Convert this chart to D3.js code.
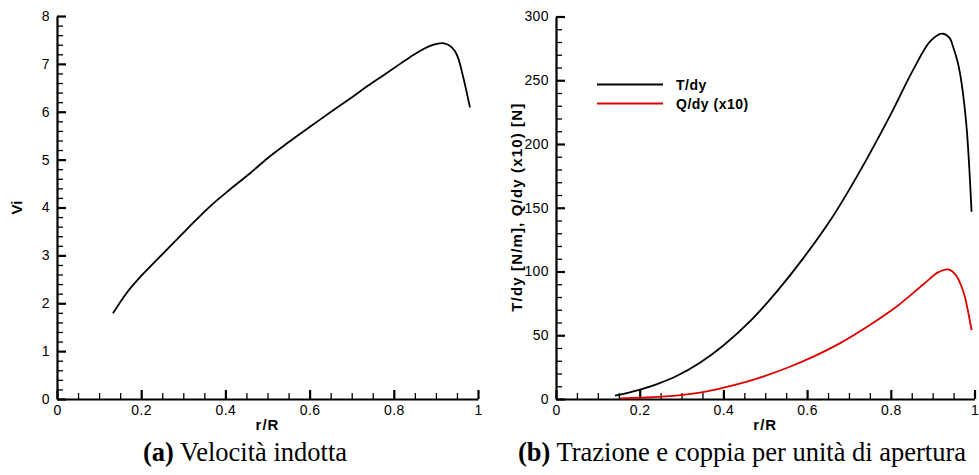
<!DOCTYPE html>
<html>
<head>
<meta charset="utf-8">
<script src="https://cdn.jsdelivr.net/npm/d3@7"></script>
<style>
  html, body { margin: 0; padding: 0; background: #fff; }
  svg { display: block; }
  .tick text { font-family: Arial, "Liberation Sans", sans-serif; font-size: 14px; letter-spacing: 0.4px; fill: #000; }
</style>
</head>
<body>
<svg id="chart" width="979" height="475"></svg>
<script>
// ---- Data ----
const viR = [0.133, 0.165, 0.20, 0.26, 0.31, 0.363, 0.41, 0.458, 0.50, 0.545, 0.60, 0.656, 0.70, 0.735, 0.78, 0.815, 0.84, 0.862, 0.885, 0.902, 0.92, 0.933, 0.945, 0.953, 0.965, 0.972, 0.981];
const viV = [1.79, 2.21, 2.57, 3.11, 3.56, 4.02, 4.37, 4.71, 5.03, 5.33, 5.68, 6.03, 6.30, 6.52, 6.79, 7.00, 7.15, 7.27, 7.37, 7.42, 7.43, 7.38, 7.27, 7.12, 6.72, 6.45, 6.09];

const tR = [0.141, 0.197, 0.24, 0.288, 0.344, 0.40, 0.464, 0.527, 0.591, 0.663, 0.726, 0.798, 0.854, 0.894, 0.922, 0.94, 0.949, 0.96, 0.969, 0.981, 0.993];
const tV = [2.6, 7.0, 11.5, 18.0, 28.5, 42.0, 61.0, 84.0, 110.5, 144.0, 178.5, 222.0, 258.5, 280.5, 286.6, 283.5, 276.1, 264.0, 248.0, 213.4, 146.8];

const qR = [0.153, 0.20, 0.264, 0.344, 0.408, 0.48, 0.559, 0.615, 0.679, 0.75, 0.814, 0.878, 0.914, 0.938, 0.957, 0.968, 0.977, 0.993];
const qV = [0.5, 1.0, 2.0, 5.0, 9.5, 16.0, 25.3, 33.2, 43.8, 58.0, 72.5, 90.0, 99.5, 101.6, 96.5, 89.0, 80.2, 54.0];

const xTicks = [0, 0.2, 0.4, 0.6, 0.8, 1];
const xTickLabels = ["0", "0.2", "0.4", "0.6", "0.8", "1"];
const viTicks = [0, 1, 2, 3, 4, 5, 6, 7, 8];
const tqTicks = [0, 50, 100, 150, 200, 250, 300];

const legendLabels = ["T/dy", "Q/dy (x10)"];
const seriesColors = ["#000000", "#dd0000"];

const captionA = ["(a)", " Velocità indotta"];
const captionB = ["(b)", " Trazione e coppia per unità di apertura"];

// ---- Drawing ----
const svg = d3.select("#chart");

function range(a, b, step) {
  const out = [];
  for (let v = a; v <= b + 1e-9; v += step) out.push(+v.toFixed(6));
  return out;
}

function panel(opts) {
  const x = d3.scaleLinear().domain([0, 1]).range([opts.x0, opts.x1]);
  const y = d3.scaleLinear().domain([0, opts.ymax]).range([opts.y0, opts.y1]);
  const g = svg.append("g");

  const xMinor = range(0, 1, 0.05).filter(v => !xTicks.some(t => Math.abs(t - v) < 1e-6));
  const yMinor = range(0, opts.ymax, opts.yMinorStep).filter(v => !opts.yTicks.some(t => Math.abs(t - v) < 1e-6));

  // minor ticks (inward)
  g.append("g").attr("transform", `translate(0,${opts.y0})`)
    .call(d3.axisBottom(x).tickValues(xMinor).tickSizeInner(-6).tickSizeOuter(0).tickFormat(""))
    .call(s => s.select(".domain").remove())
    .call(s => s.selectAll(".tick line").attr("stroke", "#000").attr("stroke-width", 1.3));
  g.append("g").attr("transform", `translate(${opts.x0},0)`)
    .call(d3.axisLeft(y).tickValues(yMinor).tickSizeInner(-6).tickSizeOuter(0).tickFormat(""))
    .call(s => s.select(".domain").remove())
    .call(s => s.selectAll(".tick line").attr("stroke", "#000").attr("stroke-width", 1.3));

  // major axes (inward ticks, labels, axis lines)
  g.append("g").attr("transform", `translate(0,${opts.y0})`)
    .call(d3.axisBottom(x).tickValues(xTicks).tickSizeInner(-9).tickSizeOuter(0).tickPadding(6)
      .tickFormat((d, i) => xTickLabels[i]))
    .call(s => s.select(".domain").attr("stroke", "#000").attr("stroke-width", 2.2))
    .call(s => s.selectAll(".tick line").attr("stroke", "#000").attr("stroke-width", 2.2));
  g.append("g").attr("transform", `translate(${opts.x0},0)`)
    .call(d3.axisLeft(y).tickValues(opts.yTicks).tickSizeInner(-9).tickSizeOuter(0).tickPadding(7))
    .call(s => s.select(".domain").attr("stroke", "#000").attr("stroke-width", 2.2))
    .call(s => s.selectAll(".tick line").attr("stroke", "#000").attr("stroke-width", 2.2));

  // axis titles
  g.append("text")
    .attr("x", (opts.x0 + opts.x1) / 2).attr("y", 430)
    .attr("text-anchor", "middle")
    .attr("font-family", "Arial, 'Liberation Sans', sans-serif")
    .attr("font-weight", "bold").attr("font-size", 15).attr("letter-spacing", 1)
    .text("r/R");
  const yt = g.append("text")
    .attr("transform", `translate(${opts.ytx},${(opts.y0 + opts.y1) / 2}) rotate(-90)`)
    .attr("text-anchor", "middle")
    .attr("font-family", "Arial, 'Liberation Sans', sans-serif")
    .attr("font-weight", "bold").attr("font-size", 15)
    .text(opts.yTitle);
  if (opts.yTitleLen) yt.attr("textLength", opts.yTitleLen).attr("lengthAdjust", "spacing");

  // caption
  const cap = g.append("text")
    .attr("x", opts.capX).attr("y", 461)
    .attr("text-anchor", "middle")
    .attr("font-family", "'Liberation Serif', 'Times New Roman', serif")
    .attr("font-size", 26.5);
  cap.append("tspan").attr("font-weight", "bold").text(opts.caption[0]);
  cap.append("tspan").text(opts.caption[1]);

  return { g, x, y };
}

const curve = d3.curveCatmullRom.alpha(0.5);

// Panel (a)
const pa = panel({ x0: 57, x1: 478, y0: 399, y1: 16, ymax: 8, yTicks: viTicks, yMinorStep: 0.2,
  yTitle: "Vi", ytx: 22, capX: 245, caption: captionA });
const lineA = d3.line().curve(curve).x(d => pa.x(d[0])).y(d => pa.y(d[1]));
pa.g.append("path").datum(viR.map((r, i) => [r, viV[i]]))
  .attr("d", lineA).attr("fill", "none").attr("stroke", "#000").attr("stroke-width", 1.8);

// Panel (b)
const pb = panel({ x0: 556, x1: 974.5, y0: 399, y1: 16.5, ymax: 300, yTicks: tqTicks, yMinorStep: 10,
  yTitle: "T/dy [N/m], Q/dy (x10) [N]", yTitleLen: 208, ytx: 522, capX: 742, caption: captionB });
const lineB = d3.line().curve(curve).x(d => pb.x(d[0])).y(d => pb.y(d[1]));
pb.g.append("path").datum(tR.map((r, i) => [r, tV[i]]))
  .attr("d", lineB).attr("fill", "none").attr("stroke", seriesColors[0]).attr("stroke-width", 1.8);
pb.g.append("path").datum(qR.map((r, i) => [r, qV[i]]))
  .attr("d", lineB).attr("fill", "none").attr("stroke", seriesColors[1]).attr("stroke-width", 1.8);

// legend
const leg = pb.g.append("g");
legendLabels.forEach((lab, i) => {
  const yy = 84.5 + i * 19;
  leg.append("line").attr("x1", 597).attr("x2", 663).attr("y1", yy).attr("y2", yy)
    .attr("stroke", seriesColors[i]).attr("stroke-width", 2);
  leg.append("text").attr("x", 676).attr("y", yy + 5)
    .attr("font-family", "Arial, 'Liberation Sans', sans-serif")
    .attr("font-weight", "bold").attr("font-size", 14).attr("letter-spacing", 0.5)
    .text(lab);
});
</script>
</body>
</html>
